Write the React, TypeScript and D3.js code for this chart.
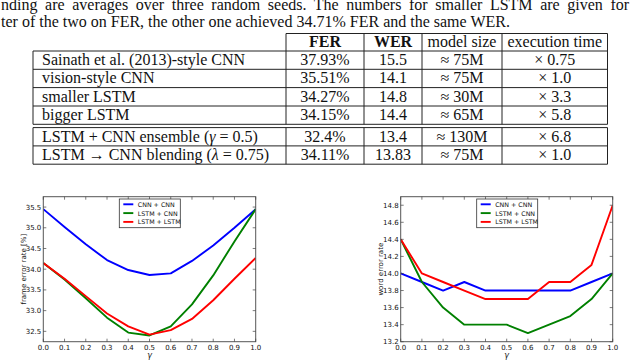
import React from "react";
import * as d3 from "d3";

// ---------- data ----------
const PARAGRAPH_LINES = [
  "nding are averages over three random seeds.  The numbers for smaller LSTM are given for",
  "ter of the two on FER, the other one achieved 34.71% FER and the same WER.",
];
const PARAGRAPH_WORD_SPACING = [3.6, 0];

const TABLE_HEADERS = ["FER", "WER", "model size", "execution time"];
const TABLE_ROWS_A = [
  ["Sainath et al. (2013)-style CNN", "37.93%", "15.5", "\u2248 75M", "\u00d7 0.75"],
  ["vision-style CNN", "35.51%", "14.1", "\u2248 75M", "\u00d7 1.0"],
  ["smaller LSTM", "34.27%", "14.8", "\u2248 30M", "\u00d7 3.3"],
  ["bigger LSTM", "34.15%", "14.4", "\u2248 65M", "\u00d7 5.8"],
];
const TABLE_ROWS_B = [
  ["LSTM + CNN ensemble (", "32.4%", "13.4", "\u2248 130M", "\u00d7 6.8"],
  ["LSTM \u2192 CNN blending (", "34.11%", "13.83", "\u2248 75M", "\u00d7 1.0"],
];

const GAMMA = [0, 0.1, 0.2, 0.3, 0.4, 0.5, 0.6, 0.7, 0.8, 0.9, 1.0];
const SERIES_NAMES = ["CNN + CNN", "LSTM + CNN", "LSTM + LSTM"];

const FER_CNN_CNN = [35.45, 35.02, 34.6, 34.22, 33.98, 33.86, 33.9, 34.2, 34.57, 35.0, 35.45];
const FER_LSTM_CNN = [34.15, 33.75, 33.3, 32.83, 32.47, 32.4, 32.62, 33.15, 33.85, 34.67, 35.45];
const FER_LSTM_LSTM = [34.15, 33.77, 33.35, 32.93, 32.62, 32.42, 32.53, 32.8, 33.25, 33.77, 34.27];

const WER_CNN_CNN = [14.0, 13.9, 13.8, 13.9, 13.8, 13.8, 13.8, 13.8, 13.8, 13.9, 14.0];
const WER_LSTM_CNN = [14.4, 13.9, 13.6, 13.4, 13.4, 13.4, 13.3, 13.4, 13.5, 13.7, 14.0];
const WER_LSTM_LSTM = [14.4, 14.0, 13.9, 13.8, 13.7, 13.7, 13.7, 13.9, 13.9, 14.1, 14.8];

const FER_TICKS = [32.5, 33.0, 33.5, 34.0, 34.5, 35.0, 35.5];
const WER_TICKS = [13.2, 13.4, 13.6, 13.8, 14.0, 14.2, 14.4, 14.6, 14.8];

const COLORS = ["#0000ff", "#008000", "#ff0000"];

// ---------- chart ----------
type ChartProps = {
  left: number;
  right: number;
  top: number;
  bottom: number;
  yDomain: [number, number];
  yTicks: number[];
  yLabel: string;
  yLabelX: number;
  series: number[][];
  legendX: number;
};

const SANS = "'DejaVu Sans', sans-serif";

function LineChart(p: ChartProps) {
  const x = d3.scaleLinear().domain([0, 1]).range([p.left, p.right]);
  const y = d3.scaleLinear().domain(p.yDomain).range([p.bottom, p.top]);
  const line = d3
    .line<number>()
    .x((_, i) => x(GAMMA[i]))
    .y((d) => y(d));
  const tl = 3;
  const cx = (p.left + p.right) / 2;
  const cy = (p.top + p.bottom) / 2;
  const lx = p.legendX;
  const ly = 199;
  return (
    <g>
      <defs>
        <clipPath id={`clip-${Math.round(p.left)}`}>
          <rect x={p.left} y={p.top} width={p.right - p.left} height={p.bottom - p.top} />
        </clipPath>
      </defs>
      <g clipPath={`url(#clip-${Math.round(p.left)})`}>
        {p.series.map((s, i) => (
          <path key={i} d={line(s) || ""} fill="none" stroke={COLORS[i]} strokeWidth={1.9} strokeLinejoin="round" />
        ))}
      </g>
      <rect x={p.left} y={p.top} width={p.right - p.left} height={p.bottom - p.top} fill="none" stroke="#555" strokeWidth={1} />
      {GAMMA.map((g, i) => (
        <g key={`xt${i}`}>
          <line x1={x(g)} x2={x(g)} y1={p.bottom} y2={p.bottom - tl} stroke="#444" strokeWidth={0.7} />
          <line x1={x(g)} x2={x(g)} y1={p.top} y2={p.top + tl} stroke="#444" strokeWidth={0.7} />
          <text x={x(g)} y={p.bottom + 7.8} fontSize={7} fontFamily={SANS} textAnchor="middle" fill="#111">
            {d3.format(".1f")(g)}
          </text>
        </g>
      ))}
      {p.yTicks.map((t, i) => (
        <g key={`yt${i}`}>
          <line x1={p.left} x2={p.left + tl} y1={y(t)} y2={y(t)} stroke="#444" strokeWidth={0.7} />
          <line x1={p.right} x2={p.right - tl} y1={y(t)} y2={y(t)} stroke="#444" strokeWidth={0.7} />
          <text x={p.left - 2} y={y(t) + 2.5} fontSize={7} fontFamily={SANS} textAnchor="end" fill="#111">
            {d3.format(".1f")(t)}
          </text>
        </g>
      ))}
      <text x={cx} y={p.bottom + 16} fontSize={8} fontFamily={SANS} fontStyle="italic" textAnchor="middle" fill="#111">
        γ
      </text>
      <text
        transform={`translate(${p.yLabelX},${cy}) rotate(-90)`}
        fontSize={7}
        fontFamily={SANS}
        textAnchor="middle"
        fill="#111"
      >
        {p.yLabel}
      </text>
      <rect x={lx} y={ly} width={61} height={28.7} fill="#fff" stroke="#333" strokeWidth={0.8} />
      {SERIES_NAMES.map((n, i) => (
        <g key={n}>
          <line x1={lx + 4} x2={lx + 14} y1={ly + 5.3 + i * 8.8} y2={ly + 5.3 + i * 8.8} stroke={COLORS[i]} strokeWidth={1.9} />
          <text x={lx + 18.5} y={ly + 7.8 + i * 8.8} fontSize={6.3} fontFamily={SANS} fill="#111">
            {n}
          </text>
        </g>
      ))}
    </g>
  );
}

// ---------- table ----------
const SERIF = "'Liberation Serif', serif";
const COL_X = [33, 286, 364, 422, 502, 607.5];
const HEADER_TOP = 33.5;
const ROWS_A_Y = [51, 69.3, 87.6, 106, 124.3];
const ROWS_B_Y = [127.6, 145.9, 164.2];

function Table() {
  const fs = 16;
  const centers = [0, 1, 2, 3].map((i) => (COL_X[i + 1] + COL_X[i + 2]) / 2);
  const rowText = (row: string[], yBot: number, key: string, mathTail?: React.ReactNode) => (
    <g key={key}>
      <text x={42} y={yBot - 4.3} fontSize={fs} fontFamily={SERIF} fill="#111">
        {row[0]}
        {mathTail}
      </text>
      {row.slice(1).map((c, j) => (
        <text key={j} x={centers[j]} y={yBot - 4.3} fontSize={fs} fontFamily={SERIF} textAnchor="middle" fill="#111">
          {c}
        </text>
      ))}
    </g>
  );
  const stroke = "#222";
  return (
    <g>
      <line x1={COL_X[1]} x2={COL_X[5]} y1={HEADER_TOP} y2={HEADER_TOP} stroke={stroke} strokeWidth={1} />
      {TABLE_HEADERS.map((h, j) => (
        <text
          key={h}
          x={centers[j]}
          y={ROWS_A_Y[0] - 4.5}
          fontSize={fs}
          fontFamily={SERIF}
          fontWeight={j < 2 ? "bold" : "normal"}
          textAnchor="middle"
          fill="#111"
        >
          {h}
        </text>
      ))}
      {COL_X.slice(1).map((cx, i) => (
        <line key={`hv${i}`} x1={cx} x2={cx} y1={HEADER_TOP} y2={ROWS_A_Y[0]} stroke={stroke} strokeWidth={1} />
      ))}
      {ROWS_A_Y.map((yy, i) => (
        <line key={`ha${i}`} x1={COL_X[0]} x2={COL_X[5]} y1={yy} y2={yy} stroke={stroke} strokeWidth={1} />
      ))}
      {COL_X.map((cx, i) => (
        <line key={`va${i}`} x1={cx} x2={cx} y1={ROWS_A_Y[0]} y2={ROWS_A_Y[4]} stroke={stroke} strokeWidth={1} />
      ))}
      {TABLE_ROWS_A.map((r, i) => rowText(r, ROWS_A_Y[i + 1], `ra${i}`))}
      {ROWS_B_Y.map((yy, i) => (
        <line key={`hb${i}`} x1={COL_X[0]} x2={COL_X[5]} y1={yy} y2={yy} stroke={stroke} strokeWidth={1} />
      ))}
      {COL_X.map((cx, i) => (
        <line key={`vb${i}`} x1={cx} x2={cx} y1={ROWS_B_Y[0]} y2={ROWS_B_Y[2]} stroke={stroke} strokeWidth={1} />
      ))}
      {rowText(
        TABLE_ROWS_B[0],
        ROWS_B_Y[1],
        "rb0",
        <>
          <tspan fontStyle="italic">γ</tspan>
          {" = 0.5)"}
        </>
      )}
      {rowText(
        TABLE_ROWS_B[1],
        ROWS_B_Y[2],
        "rb1",
        <>
          <tspan fontStyle="italic">λ</tspan>
          {" = 0.75)"}
        </>
      )}
    </g>
  );
}

export default function App() {
  return (
    <svg
      width={640}
      height={360}
      viewBox="0 0 640 360"
      style={{ position: "absolute", left: 0, top: 0, background: "#fff" }}
    >
      <rect x={0} y={0} width={640} height={360} fill="#fff" />
      {PARAGRAPH_LINES.map((t, i) => (
        <text
          key={i}
          x={1}
          y={9.5 + i * 17}
          fontSize={16}
          fontFamily={SERIF}
          fill="#111"
          style={{ wordSpacing: `${PARAGRAPH_WORD_SPACING[i]}px` }}
        >
          {t}
        </text>
      ))}
      <Table />
      <LineChart
        left={43.3}
        right={255.7}
        top={196.7}
        bottom={341.7}
        yDomain={[32.25, 35.75]}
        yTicks={FER_TICKS}
        yLabel="frame error rate [%]"
        yLabelX={25.5}
        series={[FER_CNN_CNN, FER_LSTM_CNN, FER_LSTM_LSTM]}
        legendX={119.3}
      />
      <LineChart
        left={400.7}
        right={612.7}
        top={196.7}
        bottom={341.7}
        yDomain={[13.2, 14.9]}
        yTicks={WER_TICKS}
        yLabel="word error rate"
        yLabelX={382.5}
        series={[WER_CNN_CNN, WER_LSTM_CNN, WER_LSTM_LSTM]}
        legendX={476.7}
      />
    </svg>
  );
}
